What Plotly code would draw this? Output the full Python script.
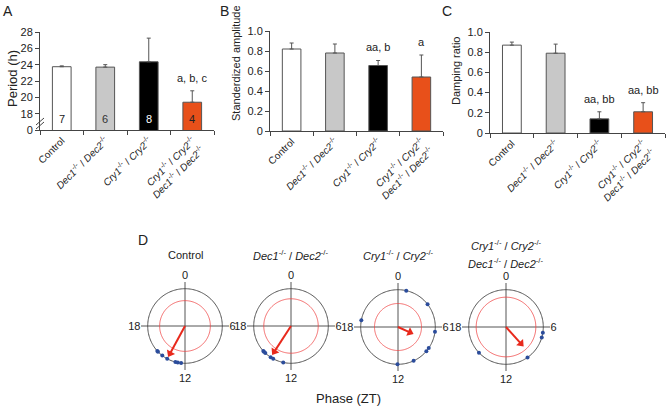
import plotly.graph_objects as go
import numpy as np

W, H = 668, 406

# ---------------- data ----------------
categories = [
    "Control",
    "<i>Dec1</i><sup>-/-</sup> / <i>Dec2</i><sup>-/-</sup>",
    "<i>Cry1</i><sup>-/-</sup> / <i>Cry2</i><sup>-/-</sup>",
    "<i>Cry1</i><sup>-/-</sup> / <i>Cry2</i><sup>-/-</sup><br><i>Dec1</i><sup>-/-</sup> / <i>Dec2</i><sup>-/-</sup>",
]
bar_colors = ["#ffffff", "#c8c8c8", "#000000", "#e8501a"]
n_labels = ["7", "6", "8", "4"]
n_label_colors = ["#222222", "#333333", "#ffffff", "#222222"]

period = [23.75, 23.7, 24.35, 19.4]
period_err = [0.1, 0.3, 2.9, 1.4]
period_sig = ["", "", "", "a, b, c"]
period_ticks = [16, 18, 20, 22, 24, 26, 28]
period_ticktext = ["0", "18", "20", "22", "24", "26", "28"]

amplitude = [0.82, 0.78, 0.655, 0.54]
amplitude_err = [0.06, 0.09, 0.05, 0.22]
amplitude_sig = ["", "", "aa, b", "a"]

damping = [0.87, 0.79, 0.14, 0.21]
damping_err = [0.03, 0.09, 0.07, 0.09]
damping_sig = ["", "", "aa, bb", "aa, bb"]

unit_ticks = [0, 0.2, 0.4, 0.6, 0.8, 1.0]
unit_ticktext = ["0", "0.2", "0.4", "0.6", "0.8", "1.0"]

# phase data (ZT hours)
phase_titles = [
    ["Control"],
    ["<i>Dec1</i><sup>-/-</sup> / <i>Dec2</i><sup>-/-</sup>"],
    ["<i>Cry1</i><sup>-/-</sup> / <i>Cry2</i><sup>-/-</sup>"],
    ["<i>Cry1</i><sup>-/-</sup> / <i>Cry2</i><sup>-/-</sup>",
     "<i>Dec1</i><sup>-/-</sup> / <i>Dec2</i><sup>-/-</sup>"],
]
phase_control = [15.2, 15.1, 14.5, 13.9, 13.0, 12.75, 12.4]
phase_dec = [15.2, 15.1, 14.9, 14.2, 13.9, 12.8]
phase_cry = [0.85, 3.5, 18.7, 6.5, 8.3, 8.7, 10.35, 12.05]
phase_crydec = [6.6, 7.1, 9.65, 15.1]
phases = [phase_control, phase_dec, phase_cry, phase_crydec]
mean_phase = [13.9, 14.2, 7.6, 9.2]
mean_length = [0.92, 0.9, 0.43, 0.68]
rayleigh_r = [0.68, 0.73, 0.63, 0.8]
phase_ticks_zt = [0, 6, 12, 18]

FONT = "Liberation Sans, Arial, sans-serif"
AX = "#444444"

fig = go.Figure()


def paper_text(x, y, text, size=11, angle=0, **kw):
    return dict(x=x / W, y=1 - y / H, xref="paper", yref="paper", text=text, showarrow=False,
                xanchor="center", yanchor="middle", textangle=angle,
                font=dict(size=size, color="#222", family=FONT), **kw)


# ---------------- bar panels ----------------
panels = [
    dict(x=(40, 214), y=(32, 130), vals=period, err=period_err, sig=period_sig,
         rng=[16, 28], tv=period_ticks, tt=period_ticktext, xa="x", ya="y"),
    dict(x=(270, 443), y=(31, 131), vals=amplitude, err=amplitude_err, sig=amplitude_sig,
         rng=[0, 1.0], tv=unit_ticks, tt=unit_ticktext, xa="x2", ya="y2"),
    dict(x=(490, 665), y=(32, 133), vals=damping, err=damping_err, sig=damping_sig,
         rng=[0, 1.0], tv=unit_ticks, tt=unit_ticktext, xa="x3", ya="y3"),
]

annotations = []
for i, p in enumerate(panels):
    fig.add_trace(go.Bar(
        x=categories, y=p["vals"], xaxis=p["xa"], yaxis=p["ya"],
        marker=dict(color=bar_colors, line=dict(color="#555555", width=1)),
        width=0.43,
        error_y=dict(type="data", array=p["err"], arrayminus=[0] * 4, symmetric=False,
                     color="#555555", thickness=1, width=2),
        showlegend=False, hoverinfo="skip", cliponaxis=True,
    ))
    suffix = "" if i == 0 else str(i + 1)
    fig.layout["xaxis" + suffix] = dict(
        domain=[p["x"][0] / W, p["x"][1] / W], anchor=p["ya"],
        type="category", range=[-0.5, 3.5], showline=True, linecolor=AX, linewidth=1,
        ticks="outside", tickson="boundaries", ticklen=4, tickcolor=AX,
        tickangle=-45, tickfont=dict(size=10, color="#222", family=FONT),
        showgrid=False, zeroline=False, fixedrange=True, automargin=False,
    )
    fig.layout["yaxis" + suffix] = dict(
        domain=[1 - p["y"][1] / H, 1 - p["y"][0] / H], anchor=p["xa"],
        range=p["rng"], tickmode="array", tickvals=p["tv"], ticktext=p["tt"],
        showline=True, linecolor=AX, linewidth=1, ticks="outside", ticklen=4, tickcolor=AX,
        tickfont=dict(size=11, color="#222", family=FONT),
        showgrid=False, zeroline=False, fixedrange=True, automargin=False,
    )
    for j, s in enumerate(p["sig"]):
        if s:
            annotations.append(dict(
                x=categories[j], y=p["vals"][j] + p["err"][j], xref=p["xa"], yref=p["ya"],
                text=s, showarrow=False, xanchor="center", yanchor="bottom", yshift=5,
                font=dict(size=11, color="#222", family=FONT)))

# n labels inside period bars
for j, t in enumerate(n_labels):
    annotations.append(dict(
        x=categories[j], y=16, xref="x", yref="y", text=t, showarrow=False,
        xanchor="center", yanchor="bottom", yshift=3,
        font=dict(size=11, color=n_label_colors[j], family=FONT)))

# axis break marks on period y-axis
shapes = []
for dy in (0, 4):
    shapes.append(dict(type="line", xref="paper", yref="paper",
                       x0=36 / W, x1=44 / W, y0=1 - (127 - dy + 2) / H, y1=1 - (120 - dy + 2) / H,
                       line=dict(color=AX, width=1)))

# axis titles
annotations += [
    paper_text(12, 79, "Period (h)", size=13, angle=-90),
    paper_text(236, 63, "Standerdized amplitude", size=11, angle=-90),
    paper_text(456, 71, "Damping ratio", size=11, angle=-90),
]
# panel letters
for letter, (lx, ly) in zip("ABCD", [(8, 11), (224, 11), (447, 11), (143, 240)]):
    annotations.append(paper_text(lx, ly, letter, size=14))

# ---------------- polar panels ----------------
centers = [(185, 326), (291, 326), (398, 327), (506, 327)]
RD = 44
circle_theta = np.linspace(0, 360, 181)
for k in range(4):
    cx, cy = centers[k]
    pname = "polar" if k == 0 else "polar%d" % (k + 1)
    fig.layout[pname] = dict(
        domain=dict(x=[(cx - RD) / W, (cx + RD) / W], y=[1 - (cy + RD) / H, 1 - (cy - RD) / H]),
        bgcolor="rgba(0,0,0,0)",
        radialaxis=dict(visible=False, range=[0, 1.18]),
        angularaxis=dict(direction="clockwise", rotation=90, tickmode="array",
                         tickvals=[z * 15 for z in phase_ticks_zt],
                         ticktext=[str(z) for z in phase_ticks_zt],
                         showgrid=True, gridcolor="#555555", gridwidth=1, showline=False,
                         ticks="", tickfont=dict(size=11, color="#222", family=FONT)),
    )
    sub = pname
    fig.add_trace(go.Scatterpolar(r=[1] * len(circle_theta), theta=circle_theta, mode="lines",
                                  line=dict(color="#555555", width=1), subplot=sub,
                                  showlegend=False, hoverinfo="skip"))
    fig.add_trace(go.Scatterpolar(r=[rayleigh_r[k]] * len(circle_theta), theta=circle_theta,
                                  mode="lines", line=dict(color="#f04a4a", width=0.8), subplot=sub,
                                  showlegend=False, hoverinfo="skip"))
    fig.add_trace(go.Scatterpolar(r=[1] * len(phases[k]), theta=[z * 15 for z in phases[k]],
                                  mode="markers", marker=dict(color="#2b4c9b", size=4),
                                  subplot=sub, showlegend=False, hoverinfo="skip"))
    th = mean_phase[k] * 15
    fig.add_trace(go.Scatterpolar(r=[0, mean_length[k] - 0.08], theta=[th, th], mode="lines",
                                  line=dict(color="#e8291c", width=2), subplot=sub,
                                  showlegend=False, hoverinfo="skip"))
    fig.add_trace(go.Scatterpolar(r=[mean_length[k] - 0.08], theta=[th], mode="markers",
                                  marker=dict(symbol="triangle-up", size=8, angle=th,
                                              color="#e8291c", line=dict(width=0)),
                                  subplot=sub, showlegend=False, hoverinfo="skip"))
    lines = phase_titles[k]
    ys = [255] if len(lines) == 1 else [245, 263]
    for txt, yy in zip(lines, ys):
        annotations.append(paper_text(cx, yy, txt, size=11))

annotations.append(paper_text(348, 398, "Phase (ZT)", size=13))

fig.update_layout(
    width=W, height=H, margin=dict(l=0, r=0, t=0, b=0, pad=0), autosize=False,
    paper_bgcolor="white", plot_bgcolor="white",
    annotations=annotations, shapes=shapes, bargap=0.5,
    font=dict(family=FONT, color="#222"),
)

fig.write_html("out.html", config={"displayModeBar": False},
               post_script="document.body.style.margin='0';document.body.style.padding='0';")
